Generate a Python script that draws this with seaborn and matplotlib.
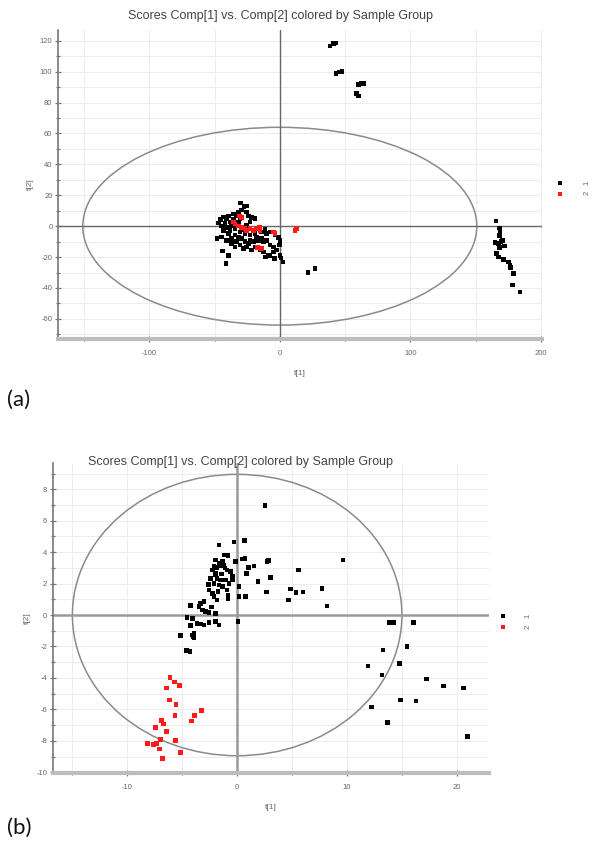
import numpy as np
import pandas as pd
import matplotlib
matplotlib.use("Agg")
import matplotlib.pyplot as plt
import seaborn as sns
from matplotlib.patches import Ellipse
from matplotlib.ticker import MultipleLocator

title = "Scores Comp[1] vs. Comp[2] colored by Sample Group"
groups = ["1", "2"]
colors = ["#000000", "#ff1a1a"]

# ---------------- panel (a) ----------------
a_g1_x = [38.5, 41.0, 42.8, 43.0, 45.6, 47.7, 60.2, 62.2, 64.0, 58.9, 60.2,
          165.7, 168.2, 168.7, 168.2, 164.9, 167.4, 169.5, 170.5, 172.1, 168.2,
          166.2, 167.7, 171.3, 175.1, 176.4, 176.9, 178.9, 178.5, 184.0,
          -27.4, -29.2, -31.8, -25.4, -33.6, -24.1, -21.6, -19.0, -43.3, -45.3,
          -40.7, -38.2, -42.0, -44.5, -40.7, -36.9, -38.2, -34.3, -30.5, -26.7,
          -22.8, -19.0, -13.9, -11.3, -10.1, -7.5, -3.7, -1.1, 0.2, -0.4,
          -2.4, 0.2, -4.9, -8.8, -12.6, -15.2, -19.0, -21.6, -24.1, -26.7,
          -29.2, -31.8, -34.3, -36.9, -39.4, -43.3, -44.5, -40.7, -36.9, -33.1,
          -30.5, -27.9, -25.4, -34.3, -39.4, -22.8, -20.3, -16.4, -12.6, -10.1,
          -7.5, -4.9, -17.7, -13.9, -27.9, -25.4, -31.8, -35.6, -30.5, -22.8,
          -39.4, -35.6, -41.2, 1.0, 2.5, -7.5, 21.6, 27.0, -11.0, -4.0,
          -44.0, -48.0, -47.0, -30.0, -25.0]
a_g1_y = [116.7, 118.2, 118.6, 98.8, 99.7, 100.1, 91.7, 92.4, 92.4, 85.9, 84.3,
          3.4, -1.1, -3.7, -6.0, -10.4, -11.2, -9.9, -9.1, -12.9, -13.8,
          -17.7, -19.9, -21.6, -23.1, -25.2, -26.7, -30.6, -38.0, -42.5,
          12.9, 10.4, 9.3, 9.3, 7.1, 6.5, 5.6, 5.0, 6.0, 4.3,
          5.0, 2.8, 1.7, 0.0, -0.9, 0.0, -2.6, -1.5, -3.7, -4.7,
          -5.8, -4.7, -3.7, -2.2, -4.7, -3.7, -5.8, -7.3, -9.1, -12.3,
          -15.5, -18.8, -16.6, -18.8, -16.6, -15.1, -13.4, -15.5, -11.2, -10.1,
          -8.0, -6.9, -5.8, -8.0, -4.7, -2.6, -6.9, -9.1, -11.2, -10.1,
          -12.3, -14.5, -13.4, -13.4, -18.8, -9.1, -10.1, -9.1, -10.1, -9.1,
          -12.3, -13.4, -6.9, -8.0, -2.2, 0.6, 2.2, 4.3, 5.0, 2.8,
          6.5, 7.8, -24.0, -20.7, -23.3, -18.8, -29.8, -27.2, -20.0, -21.0,
          -16.0, -8.0, 2.0, 15.0, 13.0]
a_g2_x = [-29.2, -31.0, -35.6, -34.3, -31.8, -29.2, -26.7, -25.4, -22.8, -20.3,
          -17.7, -15.7, -15.2, -4.9, -3.7, 11.6, 12.9, -17.2, -13.9]
a_g2_y = [5.6, 6.5, 2.8, 1.3, 0.0, -0.9, -1.5, -2.6, -1.5, -2.6,
          -1.5, -0.9, -2.6, -3.7, -4.7, -2.6, -1.5, -13.8, -14.5]

# ---------------- panel (b) ----------------
b_g1_x = [2.52, -1.67, -0.30, 0.67, -1.15, -0.85, 0.45, 0.70, -0.15,
          -1.97, -1.67, -1.36, -2.12, -1.82, -1.52, -1.21, -0.91, -0.61, -0.45,
          -2.27, -1.97, -2.42, -1.82, -1.52, -2.12, -1.67, -1.36, -1.06, -0.76,
          -0.45, -0.91, 0.15, -2.58, -2.27, -2.12, -1.82, -0.85, -0.85, 0.15,
          0.76, -3.03, -3.33, -4.24, -3.48, -3.18, -2.88, -2.58, -1.97, -4.55,
          -4.09, -3.64, -3.33, -3.03, -2.58, -1.97, -1.67, -4.24, -5.15, -3.94,
          -4.03, 0.09, -4.61, -4.30, -4.09, -3.94, -1.40, -2.00, -1.10, -2.60,
          -1.75, -2.35,
          1.06, 1.52, 0.85, 2.73, 2.88, 3.03, 1.88, 2.67, 5.61, 4.85,
          5.36, 6.00, 4.70, 7.73, 8.18, 9.64,
          13.88, 14.24, 16.06, 13.27, 15.45, 11.91, 14.76, 13.18, 17.21, 18.79,
          20.61, 14.85, 16.27, 12.21, 13.70, 20.97]
b_g1_y = [6.96, 4.46, 4.65, 4.76, 3.82, 3.80, 3.57, 3.61, 3.40,
          3.50, 3.29, 3.40, 3.12, 3.04, 3.12, 3.18, 2.87, 2.76, 2.44,
          2.87, 2.65, 2.34, 2.34, 2.23, 2.02, 1.91, 1.80, 2.23, 2.02,
          2.23, 1.59, 1.80, 1.59, 1.38, 1.17, 0.96, 1.27, 1.06, 1.17,
          1.17, 0.85, 0.74, 0.62, 0.53, 0.32, 0.21, 0.15, 0.11, -0.15,
          -0.23, -0.53, -0.57, -0.64, -0.49, -0.42, -0.64, -0.68, -1.32, -1.17,
          -1.38, -0.42, -2.27, -2.31, -1.27, -1.44, 2.60, 2.55, 3.00, 1.95,
          1.50, 0.50,
          3.04, 3.12, 2.65, 3.40, 3.46, 2.40, 2.12, 1.46, 2.87, 1.66,
          1.42, 1.46, 0.96, 1.70, 0.57, 3.50,
          -0.47, -0.47, -0.47, -2.23, -2.02, -3.23, -3.08, -3.82, -4.06, -4.52,
          -4.63, -5.41, -5.46, -5.86, -6.84, -7.73]
b_g2_x = [-6.12, -5.70, -5.24, -6.42, -6.15, -5.58, -5.67, -3.24, -3.88, -4.15,
          -6.88, -6.73, -7.42, -6.45, -7.00, -5.60, -8.18, -7.64, -7.33, -7.09,
          -5.15, -6.82]
b_g2_y = [-3.99, -4.25, -4.50, -4.63, -5.41, -5.69, -6.41, -6.07, -6.41, -6.73,
          -6.71, -6.94, -7.15, -7.41, -7.90, -7.98, -8.17, -8.22, -8.17, -8.51,
          -8.75, -9.13]

sns.set_theme(style="white")
plt.rcParams['font.family'] = ['Liberation Sans', 'DejaVu Sans']
plt.rcParams['axes.unicode_minus'] = False

fig = plt.figure(figsize=(6, 8.59), dpi=100)
axA = fig.add_axes([0.0967, 0.6054, 0.8067, 0.3597])
axB = fig.add_axes([0.0877, 0.1001, 0.7268, 0.3605])


def make_df(g1x, g1y, g2x, g2y):
    return pd.DataFrame({
        "t1": list(g1x) + list(g2x),
        "t2": list(g1y) + list(g2y),
        "group": [groups[0]] * len(g1x) + [groups[1]] * len(g2x),
    })


def style(ax, xlim, ylim, xmaj, xmin, ymaj, ymin, ell_w, ell_h,
          zero_color, zero_lw):
    ax.set_xlim(*xlim)
    ax.set_ylim(*ylim)
    ax.xaxis.set_major_locator(MultipleLocator(xmaj))
    ax.xaxis.set_minor_locator(MultipleLocator(xmin))
    ax.yaxis.set_major_locator(MultipleLocator(ymaj))
    ax.yaxis.set_minor_locator(MultipleLocator(ymin))
    ax.grid(True, which="both", color="#ececec", lw=0.7, zorder=0)
    ax.set_axisbelow(True)
    for s in ["top", "right"]:
        ax.spines[s].set_visible(False)
    ax.spines["left"].set_color("#777777")
    ax.spines["left"].set_linewidth(1.2)
    ax.spines["bottom"].set_color("#bdbdbd")
    ax.spines["bottom"].set_linewidth(3)
    ax.tick_params(which="both", direction="inout", colors="#777777",
                   labelcolor="#666666", labelsize=5.5, width=0.9)
    ax.tick_params(which="major", length=4)
    ax.tick_params(which="minor", length=3)
    ax.tick_params(axis="x", which="both", bottom=True, pad=6)
    ax.tick_params(axis="y", which="both", left=True, pad=2)
    ax.add_patch(Ellipse((0, 0), ell_w, ell_h, fill=False,
                         edgecolor="#8a8a8a", lw=1.1, zorder=2))
    ax.axhline(0, color=zero_color, lw=zero_lw, zorder=2)
    ax.axvline(0, color=zero_color, lw=zero_lw, zorder=2)
    ax.set_xlabel("t[1]", fontsize=6, color="#666666", labelpad=9)
    ax.set_ylabel("t[2]", fontsize=6, color="#666666", labelpad=4)


dfA = make_df(a_g1_x, a_g1_y, a_g2_x, a_g2_y)
dfB = make_df(b_g1_x, b_g1_y, b_g2_x, b_g2_y)

for ax, df in [(axA, dfA), (axB, dfB)]:
    sns.scatterplot(data=df, x="t1", y="t2", hue="group", hue_order=groups,
                    palette=colors, marker="s", s=11, linewidth=0,
                    ax=ax, zorder=3)

style(axA, (-170, 201), (-73, 127), 100, 50, 20, 10, 302, 128, "#666666", 1.0)
style(axB, (-16.8, 22.9), (-10.05, 9.65), 10, 5, 2, 1, 30, 17.9, "#9a9a9a", 1.8)

# legends: markers from seaborn, labels placed as rotated text
leg_specs = [(axA, (0.915, 1 - 177 / 859), 587, [183, 193]),
             (axB, (0.82, 1 - 610 / 859), 528, [616, 627])]
for ax, anchor, lab_x, lab_ys in leg_specs:
    sns.move_legend(ax, "upper left", bbox_to_anchor=anchor,
                    bbox_transform=fig.transFigure, frameon=False, title=None,
                    fontsize=5.5, handletextpad=0.2, labelspacing=0.35,
                    borderpad=0, markerscale=1.0)
    leg = ax.get_legend()
    for t, g, yy in zip(leg.get_texts(), groups, lab_ys):
        t.set_text("")
        fig.text(lab_x / 600, 1 - yy / 859, g, rotation=90, ha="center",
                 va="center", fontsize=5.5, color="#666666")

fig.text(0.468, 1 - 16 / 859, title, ha="center", va="center",
         fontsize=9, color="#444444")
fig.text(0.40, 1 - 462 / 859, title, ha="center", va="center",
         fontsize=9, color="#444444")

fig.text(0.012, 1 - 400 / 859, "(a)", ha="left", va="center",
         fontsize=16, color="#111111", family=["Lato", "DejaVu Sans"])
fig.text(0.012, 1 - 828 / 859, "(b)", ha="left", va="center",
         fontsize=16, color="#111111", family=["Lato", "DejaVu Sans"])

fig.savefig("out.png", dpi=100, facecolor="white")
